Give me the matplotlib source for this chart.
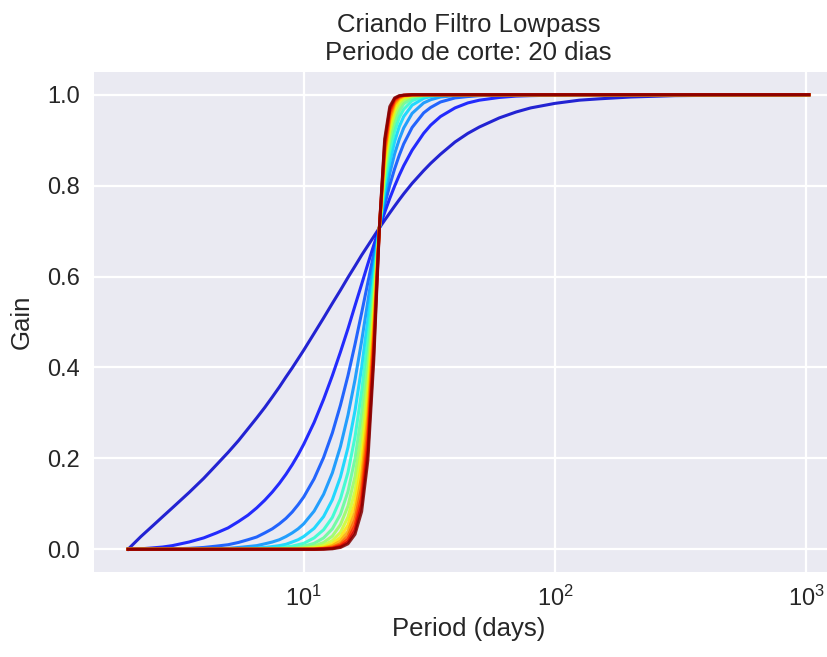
import matplotlib
matplotlib.use("Agg")
import matplotlib.pyplot as plt

periods = [2, 2.25, 2.5, 2.75, 3, 3.5, 4, 4.5, 5, 5.5,
           6, 6.5, 7, 7.5, 8, 8.5, 9, 9.5, 10, 11,
           12, 13, 14, 15, 16, 17, 18, 19, 20, 21,
           22, 23, 24, 25, 27, 30, 32, 35, 40, 45,
           50, 60, 70, 80, 100, 125, 150, 200, 300, 500,
           1024]

# gain per filter order (1..15), same order as periods
order_01 = [0, 0.028, 0.051, 0.072, 0.091, 0.125, 0.156, 0.186, 0.213, 0.239,
            0.265, 0.289, 0.312, 0.335, 0.357, 0.379, 0.399, 0.419, 0.438, 0.475,
            0.509, 0.541, 0.570, 0.598, 0.623, 0.647, 0.668, 0.688, 0.707, 0.724,
            0.740, 0.755, 0.769, 0.782, 0.805, 0.833, 0.849, 0.869, 0.896, 0.915,
            0.929, 0.949, 0.962, 0.971, 0.981, 0.988, 0.991, 0.995, 0.998, 0.999,
            1.0]
order_02 = [0, 0.001, 0.003, 0.005, 0.008, 0.016, 0.025, 0.036, 0.047, 0.061,
            0.075, 0.091, 0.108, 0.126, 0.145, 0.165, 0.186, 0.208, 0.231, 0.279,
            0.330, 0.382, 0.434, 0.485, 0.536, 0.583, 0.628, 0.669, 0.707, 0.741,
            0.772, 0.799, 0.823, 0.844, 0.878, 0.915, 0.933, 0.952, 0.971, 0.982,
            0.988, 0.994, 0.997, 0.998, 0.999] + [1.0] * 6
order_03 = [0] * 4 + [
            0.001, 0.002, 0.004, 0.007, 0.010, 0.015,
            0.021, 0.027, 0.036, 0.045, 0.056, 0.068, 0.082, 0.098, 0.115, 0.155,
            0.202, 0.256, 0.317, 0.382, 0.451, 0.520, 0.587, 0.650, 0.707, 0.758,
            0.801, 0.837, 0.867, 0.892, 0.928, 0.960, 0.972, 0.984, 0.993, 0.996,
            0.998, 0.999] + [1.0] * 9
order_04 = [0] * 6 + [
            0.001, 0.001, 0.002, 0.004,
            0.006, 0.008, 0.012, 0.016, 0.021, 0.028, 0.036, 0.045, 0.056, 0.084,
            0.121, 0.168, 0.226, 0.295, 0.373, 0.458, 0.546, 0.630, 0.707, 0.773,
            0.827, 0.870, 0.902, 0.927, 0.959, 0.982, 0.989, 0.995, 0.998, 0.999] + [1.0] * 11
order_05 = [0] * 8 + [
            0.001, 0.001,
            0.002, 0.003, 0.004, 0.006, 0.008, 0.011, 0.016, 0.021, 0.028, 0.046,
            0.072, 0.109, 0.159, 0.224, 0.305, 0.400, 0.505, 0.610, 0.707, 0.788,
            0.851, 0.897, 0.930, 0.952, 0.977, 0.992, 0.996, 0.998] + [1.0] * 13
order_06 = [0] * 11 + [
            0.001, 0.001, 0.002, 0.003, 0.005, 0.007, 0.010, 0.013, 0.025,
            0.043, 0.070, 0.111, 0.169, 0.247, 0.347, 0.465, 0.590, 0.707, 0.803,
            0.873, 0.920, 0.950, 0.968, 0.987, 0.996, 0.998, 0.999] + [1.0] * 13
order_07 = [0] * 13 + [
            0.001, 0.001, 0.002, 0.003, 0.004, 0.007, 0.013,
            0.025, 0.045, 0.077, 0.127, 0.199, 0.299, 0.427, 0.570, 0.707, 0.817,
            0.892, 0.938, 0.964, 0.980, 0.993, 0.998, 0.999] + [1.0] * 14
order_08 = [0] * 15 + [
            0.001, 0.001, 0.002, 0.003, 0.007,
            0.015, 0.029, 0.054, 0.095, 0.160, 0.257, 0.390, 0.550, 0.707, 0.830,
            0.908, 0.952, 0.975, 0.987, 0.996, 0.999] + [1.0] * 15
order_09 = [0] * 17 + [
            0.001, 0.002, 0.004,
            0.009, 0.019, 0.037, 0.071, 0.128, 0.220, 0.356, 0.530, 0.707, 0.842,
            0.922, 0.963, 0.983, 0.992, 0.998] + [1.0] * 16
order_10 = [0] * 18 + [
            0.001, 0.002,
            0.005, 0.012, 0.026, 0.053, 0.102, 0.187, 0.324, 0.510, 0.707, 0.854,
            0.935, 0.972, 0.988, 0.995, 0.999] + [1.0] * 16
order_11 = [0] * 19 + [
            0.001,
            0.003, 0.008, 0.018, 0.039, 0.081, 0.160, 0.294, 0.491, 0.707, 0.865,
            0.945, 0.979, 0.992, 0.997, 0.999] + [1.0] * 16
order_12 = [0] * 20 + [
            0.002, 0.005, 0.012, 0.029, 0.065, 0.136, 0.266, 0.471, 0.707, 0.876,
            0.954, 0.984, 0.994, 0.998] + [1.0] * 17
order_13 = [0] * 20 + [
            0.001, 0.003, 0.009, 0.022, 0.052, 0.115, 0.241, 0.452, 0.707, 0.885,
            0.962, 0.988, 0.996, 0.999] + [1.0] * 17
order_14 = [0] * 20 + [
            0.001, 0.002, 0.006, 0.016, 0.041, 0.098, 0.217, 0.434, 0.707, 0.895,
            0.968, 0.991, 0.997, 0.999] + [1.0] * 17
order_15 = [0] * 21 + [
            0.001, 0.004, 0.012, 0.033, 0.083, 0.196, 0.416, 0.707, 0.903,
            0.974, 0.993, 0.998, 0.999] + [1.0] * 17

gain_curves = [order_01, order_02, order_03, order_04, order_05,
               order_06, order_07, order_08, order_09, order_10,
               order_11, order_12, order_13, order_14, order_15]

# darkgrid-like look
plt.rcParams.update({
    "font.family": ["Liberation Sans", "DejaVu Sans"],
    "mathtext.default": "regular",
    "axes.facecolor": "#EAEAF2",
    "axes.edgecolor": "white",
    "axes.grid": True,
    "grid.color": "white",
    "grid.linewidth": 1.6,
    "text.color": ".15",
    "axes.labelcolor": ".15",
    "xtick.color": ".15",
    "ytick.color": ".15",
    "xtick.major.size": 0,
    "ytick.major.size": 0,
    "xtick.minor.size": 0,
    "ytick.minor.size": 0,
})

fig = plt.figure(figsize=(8.27, 6.57), dpi=100)
ax = fig.add_axes([94 / 827, 85 / 657, 749 / 827, 500 / 657])
for sp in ax.spines.values():
    sp.set_visible(False)
ax.set_axisbelow(True)

n = len(gain_curves)
for i, g in enumerate(gain_curves):
    ax.plot(periods, g, color=plt.cm.jet((i + 1) / n), lw=2.2, alpha=0.85)

ax.set_xscale("log")
ax.set_yticks([0.0, 0.2, 0.4, 0.6, 0.8, 1.0])
ax.tick_params(axis="both", which="major", labelsize=17, pad=10)
ax.set_xlabel("Period (days)", fontsize=18.5, labelpad=4)
ax.set_ylabel("Gain", fontsize=18.5, labelpad=10)
ax.set_title("Criando Filtro Lowpass\nPeriodo de corte: 20 dias", fontsize=18.5, pad=9)

fig.savefig("out.png", dpi=100)
